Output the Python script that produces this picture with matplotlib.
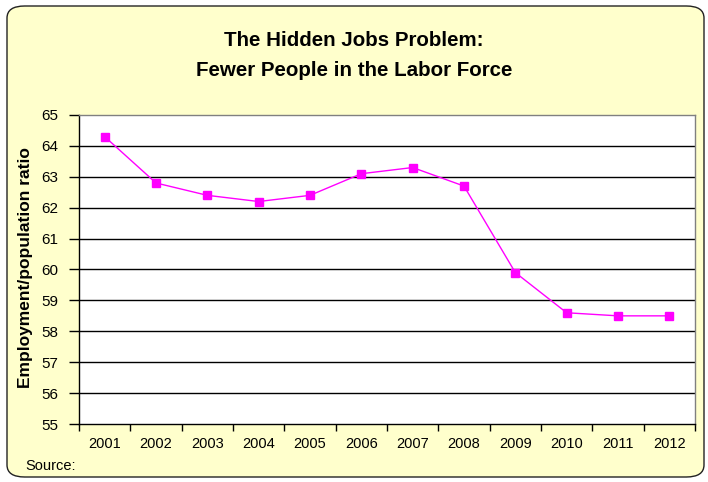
import matplotlib.pyplot as plt
from matplotlib.patches import FancyBboxPatch

plt.rcParams['font.family'] = ['Liberation Sans', 'DejaVu Sans']

years = ['2001', '2002', '2003', '2004', '2005', '2006',
         '2007', '2008', '2009', '2010', '2011', '2012']
ratio = [64.3, 62.8, 62.4, 62.2, 62.4, 63.1, 63.3, 62.7, 59.9, 58.6, 58.5, 58.5]
yticks = list(range(55, 66))

W, H = 708, 482
fig = plt.figure(figsize=(W / 100, H / 100), dpi=100)
fig.patch.set_facecolor('white')

# rounded yellow chart area
bg = FancyBboxPatch((7 / W, 5 / H), 697 / W, 471 / H,
                    boxstyle='round,pad=0,rounding_size=0.025',
                    transform=fig.transFigure, facecolor='#FFFFCC',
                    edgecolor='#222222', linewidth=1.0, zorder=0)
fig.add_artist(bg)

ax = fig.add_axes([79 / W, 1 - 424 / H, (695 - 79) / W, (424 - 115) / H])
ax.set_zorder(2)
ax.set_facecolor('white')

x = list(range(len(years)))
ax.plot(x, ratio, color='#FF00FF', linewidth=1.0, marker='s',
        markersize=6, markerfacecolor='#FF00FF', markeredgecolor='#FF00FF',
        zorder=3)

ax.set_xlim(-0.5, len(years) - 0.5)
ax.set_ylim(55, 65)
ax.set_yticks(yticks)
ax.set_yticklabels([str(v) for v in yticks], fontsize=11)
for v in yticks[1:-1]:
    ax.axhline(v, color='black', linewidth=1.0, zorder=1)

# category labels centered, tick marks at boundaries
ax.set_xticks(x)
ax.set_xticklabels(years, fontsize=10.5)
ax.tick_params(axis='x', length=0, pad=9)
ax.set_xticks([i - 0.5 for i in range(len(years) + 1)], minor=True)
ax.tick_params(axis='x', which='minor', length=5, width=1, color='black')
ax.tick_params(axis='y', length=7, width=1, color='black', pad=8)

ax.spines['left'].set_color('black')
ax.spines['bottom'].set_color('black')
ax.spines['top'].set_color('#808080')
ax.spines['right'].set_color('#808080')
for s in ax.spines.values():
    s.set_linewidth(1.0)

ax.set_ylabel('Employment/population ratio', fontsize=12.5, fontweight='bold')
ax.yaxis.set_label_coords(-0.075, 0.505)

fig.text(0.5, 1 - 40 / H, 'The Hidden Jobs Problem:', ha='center', va='center',
         fontsize=14.8, fontweight='bold')
fig.text(0.5, 1 - 70 / H, 'Fewer People in the Labor Force', ha='center',
         va='center', fontsize=14.8, fontweight='bold')
fig.text(25 / W, 1 - 466 / H, 'Source:', ha='left', va='center', fontsize=10.5)

fig.savefig('out.png', dpi=100, facecolor=fig.get_facecolor())
